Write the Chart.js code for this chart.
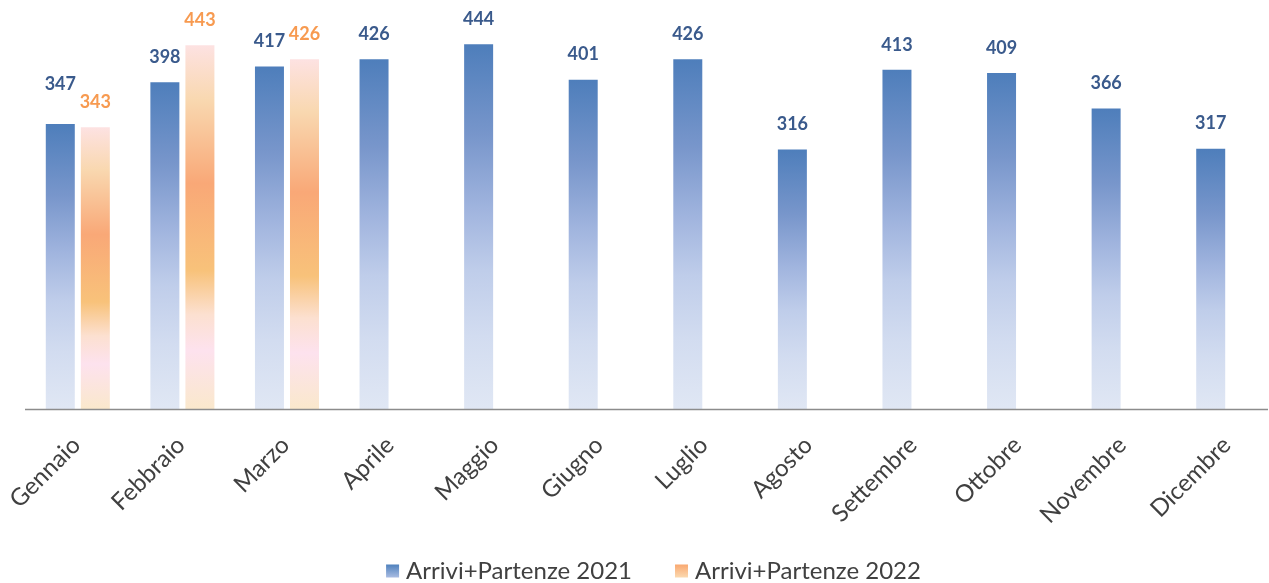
<!DOCTYPE html>
<html>
<head>
<meta charset="utf-8">
<script src="https://cdn.jsdelivr.net/npm/chart.js@4.4.1/dist/chart.umd.min.js"></script>
<style>
  html, body { margin: 0; padding: 0; background: #fff; }
  #wrap { width: 1269px; height: 583px; position: relative; }
</style>
</head>
<body>
<div id="wrap"><canvas id="c"></canvas></div>
<script>
const categories = ['Gennaio','Febbraio','Marzo','Aprile','Maggio','Giugno','Luglio','Agosto','Settembre','Ottobre','Novembre','Dicembre'];
const series2021 = [347, 398, 417, 426, 444, 401, 426, 316, 413, 409, 366, 317];
const series2022 = [343, 443, 426, null, null, null, null, null, null, null, null, null];
const seriesNames = ['Arrivi+Partenze 2021', 'Arrivi+Partenze 2022'];

const FONT = 'Lato, "Open Sans", "Liberation Sans", sans-serif';
const LABEL_COLORS = ['#3A5A8C', '#F79A50'];
const LABEL_OFFSET = 16;
// extra upward shift of single labels, as in the reference (dataset-index)
const LABEL_SHIFT = { '0-0': 15 };
// the 2022 bars sit beside the (centred) 2021 bars: shift in category units
const SECOND_SERIES_SHIFT = 0.335;

const blueStops = [[0,'#4E7EBB'],[0.25,'#7896CB'],[0.45,'#A0B4DE'],[0.62,'#BFCDEA'],[0.8,'#D2DCF0'],[1,'#E0E7F4']];
const orangeStops = [[0,'#FDE2E2'],[0.15,'#F9D8B0'],[0.38,'#F9A877'],[0.62,'#F8C27A'],[0.74,'#FCE0D0'],[0.84,'#FDE2EE'],[1,'#FAE8CC']];

function valueOf(d) { return (d !== null && typeof d === 'object') ? d.y : d; }

function barGradient(stops, solid) {
  return function(ctx) {
    const chart = ctx.chart;
    if (!chart.chartArea || ctx.type !== 'data' || !ctx.parsed || ctx.parsed.y == null) return solid;
    const y = chart.scales.y;
    const top = y.getPixelForValue(ctx.parsed.y);
    const bot = y.getPixelForValue(0);
    const g = chart.ctx.createLinearGradient(0, top, 0, bot);
    stops.forEach(s => g.addColorStop(s[0], s[1]));
    return g;
  };
}

const labelPlugin = {
  id: 'valueLabels',
  afterDatasetsDraw(chart) {
    const c = chart.ctx;
    c.save();
    c.font = 'bold 18px ' + FONT;
    c.textAlign = 'center';
    c.textBaseline = 'bottom';
    chart.data.datasets.forEach((ds, di) => {
      const meta = chart.getDatasetMeta(di);
      meta.data.forEach((el, i) => {
        const v = valueOf(ds.data[i]);
        if (v == null) return;
        const off = LABEL_OFFSET + (LABEL_SHIFT[di + '-' + i] || 0);
        c.fillStyle = LABEL_COLORS[di];
        c.fillText(String(v), el.x, el.y - off);
      });
    });
    c.restore();
  }
};

const axisLinePlugin = {
  id: 'axisLine',
  afterDatasetsDraw(chart) {
    const c = chart.ctx, a = chart.chartArea;
    c.save();
    c.strokeStyle = '#8C8C8C';
    c.lineWidth = 1.5;
    c.beginPath();
    c.moveTo(a.left + 17, a.bottom + 0.5);
    c.lineTo(a.right + 5, a.bottom + 0.5);
    c.stroke();
    c.restore();
  }
};

const legendPlugin = {
  id: 'bottomLegend',
  afterDraw(chart) {
    const c = chart.ctx;
    c.save();
    c.font = '24px ' + FONT;
    c.textBaseline = 'middle';
    c.textAlign = 'left';
    const box = 13, gapText = 7, gapItem = 43;
    const widths = seriesNames.map(n => c.measureText(n).width);
    const total = widths.reduce((a, w) => a + box + gapText + w, 0) + gapItem * (seriesNames.length - 1);
    const cx = chart.width / 2 + 19;
    const cy = chart.height - 12;
    let x = cx - total / 2;
    const grads = [['#4F81BD', '#A9BCE2'], ['#F9A870', '#FBD9B0']];
    seriesNames.forEach((n, i) => {
      const g = c.createLinearGradient(0, cy - box / 2, 0, cy + box / 2);
      g.addColorStop(0, grads[i][0]);
      g.addColorStop(1, grads[i][1]);
      c.fillStyle = g;
      c.fillRect(x, cy - box / 2, box, box);
      x += box + gapText;
      c.fillStyle = '#404040';
      c.fillText(n, x, cy);
      x += widths[i] + gapItem;
    });
    c.restore();
  }
};

new Chart(document.getElementById('c'), {
  type: 'bar',
  data: {
    labels: categories,
    datasets: [
      {
        label: seriesNames[0],
        data: series2021,
        xAxisID: 'x',
        grouped: false,
        backgroundColor: barGradient(blueStops, '#4F81BD'),
        borderWidth: 0
      },
      {
        label: seriesNames[1],
        data: series2022.map((v, i) => ({ x: i, y: v })),
        xAxisID: 'x2',
        grouped: false,
        backgroundColor: barGradient(orangeStops, '#F9A870'),
        borderWidth: 0
      }
    ]
  },
  plugins: [labelPlugin, axisLinePlugin, legendPlugin],
  options: {
    responsive: true,
    maintainAspectRatio: false,
    animation: false,
    devicePixelRatio: 1,
    categoryPercentage: 0.68,
    barPercentage: 0.83,
    maxBarThickness: 29,
    layout: { padding: { left: 8, right: 6, top: 0, bottom: 0 } },
    scales: {
      x: {
        grid: { display: false, drawTicks: false },
        border: { display: false },
        ticks: {
          color: '#404040',
          font: { family: FONT, size: 24 },
          maxRotation: 45,
          minRotation: 45,
          padding: 22,
          labelOffset: 16,
          autoSkip: false
        },
        afterFit(scale) {
          scale.height = 174;
          scale.paddingLeft = 0;
          scale.paddingRight = 0;
        }
      },
      x2: {
        type: 'linear',
        display: false,
        offset: false,
        min: -0.5 - SECOND_SERIES_SHIFT,
        max: categories.length - 0.5 - SECOND_SERIES_SHIFT
      },
      y: {
        display: false,
        min: 0,
        max: 498
      }
    },
    plugins: {
      legend: { display: false },
      tooltip: { enabled: false }
    }
  }
});
</script>
</body>
</html>
